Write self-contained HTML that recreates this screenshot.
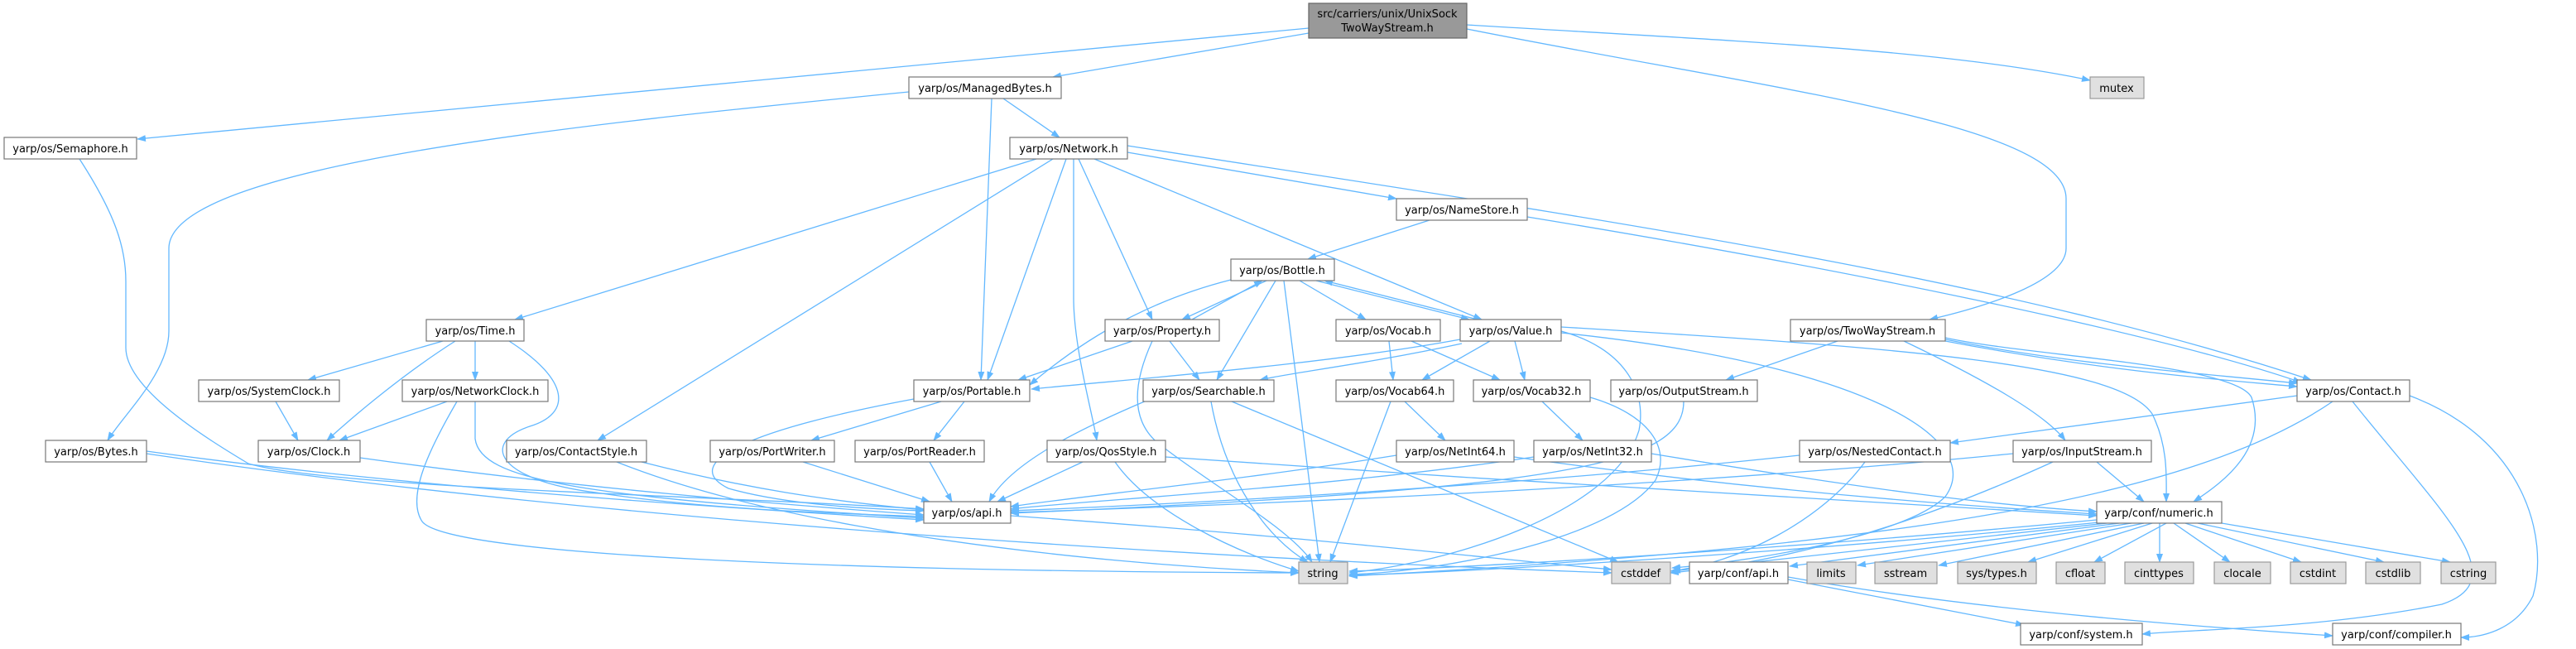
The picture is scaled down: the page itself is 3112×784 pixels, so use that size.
<!DOCTYPE html>
<html><head><meta charset="utf-8"><style>
html,body{margin:0;padding:0;background:#fff;}
svg{display:block;}
text{font-family:"DejaVu Sans","Liberation Sans",sans-serif;font-size:13px;fill:#000;text-anchor:middle;}
.e{fill:none;stroke:#63b8ff;stroke-width:1.3;marker-end:url(#a);}
.n{fill:#fff;stroke:#777;stroke-width:1.2;}
.g{fill:#e0e0e0;stroke:#999;stroke-width:1.2;}
</style></head><body>
<svg width="3112" height="784" viewBox="0 0 3112 784" xmlns="http://www.w3.org/2000/svg">
<defs><marker id="a" markerUnits="userSpaceOnUse" markerWidth="11" markerHeight="8" refX="10" refY="4" orient="auto"><path d="M0,0 L11,4 L0,8 z" fill="#63b8ff"/></marker></defs>
<g>
<path class="e" d="M1581,40 L1272,93"/>
<path class="e" d="M1581,34 L166,168"/>
<path class="e" d="M1772,30 C2100,50 2350,60 2525,97"/>
<path class="e" d="M1772,35 C2150,110 2496,150 2496,240 L2496,300 C2496,340 2400,370 2331,386"/>
<path class="e" d="M1098,111 C700,150 204,200 204,300 L204,400 C204,450 150,500 130,532"/>
<path class="e" d="M1198,119 L1185,459"/>
<path class="e" d="M1212,119 L1280,166"/>
<path class="e" d="M96,192 C140,260 152,300 152,340 L152,420 C152,470 250,530 300,560 C400,590 900,600 1116,615"/>
<path class="e" d="M1252,192 L622,386"/>
<path class="e" d="M1272,192 L722,532"/>
<path class="e" d="M1288,192 L1193,459"/>
<path class="e" d="M1297,192 L1297,360 C1297,420 1320,500 1325,532"/>
<path class="e" d="M1303,192 L1392,386"/>
<path class="e" d="M1322,192 L1790,386"/>
<path class="e" d="M1362,184 L1687,240"/>
<path class="e" d="M1362,176 C1900,260 2400,330 2792,459"/>
<path class="e" d="M1730,265 L1580,313"/>
<path class="e" d="M1845,262 C2200,320 2600,400 2780,462"/>
<path class="e" d="M1530,339 L1428,386"/>
<path class="e" d="M1440,386 L1525,339"/>
<path class="e" d="M1487,338 C1400,360 1320,400 1244,465"/>
<path class="e" d="M1368,412 L1230,459"/>
<path class="e" d="M1764,410 C1600,440 1400,455 1246,470"/>
<path class="e" d="M1541,339 L1470,459"/>
<path class="e" d="M1413,412 L1449,459"/>
<path class="e" d="M1766,415 C1650,440 1560,450 1522,459"/>
<path class="e" d="M1551,339 L1594,679"/>
<path class="e" d="M1392,412 C1370,460 1362,510 1405,540 C1470,590 1560,640 1585,679"/>
<path class="e" d="M1570,339 L1650,386"/>
<path class="e" d="M1590,339 L1775,386"/>
<path class="e" d="M1785,386 L1600,339"/>
<path class="e" d="M1800,412 L1718,459"/>
<path class="e" d="M1830,412 L1842,459"/>
<path class="e" d="M1678,412 L1683,459"/>
<path class="e" d="M1705,412 L1812,459"/>
<path class="e" d="M1697,485 L1746,532"/>
<path class="e" d="M1863,485 L1912,532"/>
<path class="e" d="M1680,485 L1607,679"/>
<path class="e" d="M1921,480 C1990,500 2020,540 2000,580 C1950,650 1750,690 1630,694"/>
<path class="e" d="M1463,485 C1480,580 1530,650 1580,679"/>
<path class="e" d="M1488,485 L1955,679"/>
<path class="e" d="M1385,484 C1300,520 1220,560 1195,606"/>
<path class="e" d="M1104,482 C900,520 820,560 880,590 C950,610 1050,615 1116,617"/>
<path class="e" d="M1137,485 L980,532"/>
<path class="e" d="M1165,485 L1128,532"/>
<path class="e" d="M970,558 L1123,606"/>
<path class="e" d="M1123,558 L1150,606"/>
<path class="e" d="M1308,558 L1205,606"/>
<path class="e" d="M1347,558 C1390,620 1500,670 1569,690"/>
<path class="e" d="M1408,552 C1800,580 2300,610 2533,623"/>
<path class="e" d="M535,412 L372,459"/>
<path class="e" d="M550,412 C490,450 430,500 395,532"/>
<path class="e" d="M574,412 L574,459"/>
<path class="e" d="M615,412 C690,460 690,500 640,515 C580,535 600,580 720,595 C850,615 1000,620 1116,624"/>
<path class="e" d="M333,485 L360,532"/>
<path class="e" d="M540,485 L410,532"/>
<path class="e" d="M574,485 L574,530 C580,580 700,600 1116,626"/>
<path class="e" d="M552,485 C520,540 490,600 510,630 C540,670 1000,690 1569,692"/>
<path class="e" d="M177,545 C500,590 900,615 1116,628"/>
<path class="e" d="M177,548 C800,640 1600,680 1947,692"/>
<path class="e" d="M435,553 C700,590 950,610 1116,622"/>
<path class="e" d="M775,558 C900,590 1000,605 1116,616"/>
<path class="e" d="M745,558 C950,640 1300,680 1569,692"/>
<path class="e" d="M1221,623 C1600,650 1800,675 1947,688"/>
<path class="e" d="M1687,550 C1500,580 1300,600 1221,612"/>
<path class="e" d="M1829,552 C2100,590 2350,610 2533,621"/>
<path class="e" d="M1853,552 C1600,590 1300,605 1221,615"/>
<path class="e" d="M1995,548 C2250,590 2400,610 2533,618"/>
<path class="e" d="M2174,550 C1800,590 1400,610 1221,617"/>
<path class="e" d="M2253,558 C2200,630 2100,680 2018,690"/>
<path class="e" d="M2432,548 C2000,590 1500,610 1221,619"/>
<path class="e" d="M2533,558 L2590,606"/>
<path class="e" d="M2480,558 C2300,640 2150,680 2018,692"/>
<path class="e" d="M2220,412 L2085,459"/>
<path class="e" d="M2300,412 C2400,460 2470,500 2495,532"/>
<path class="e" d="M2350,410 C2500,440 2650,450 2775,463"/>
<path class="e" d="M2350,412 C2550,450 2700,460 2775,467"/>
<path class="e" d="M2350,408 C2450,430 2700,440 2720,480 C2740,540 2690,580 2650,606"/>
<path class="e" d="M1886,395 C2300,420 2560,440 2600,500 C2620,540 2617,580 2617,606"/>
<path class="e" d="M1886,400 C1960,420 1990,470 1980,520 C1950,620 1750,680 1630,692"/>
<path class="e" d="M1886,402 C2250,440 2400,530 2350,600 C2300,650 2100,680 2020,686"/>
<path class="e" d="M2034,485 C2034,560 1900,590 1221,620"/>
<path class="e" d="M2775,478 L2356,535"/>
<path class="e" d="M2818,485 C2650,600 2300,660 1630,696"/>
<path class="e" d="M2842,485 C2950,620 3040,700 2950,730 C2800,760 2650,760 2588,766"/>
<path class="e" d="M2911,478 C3050,530 3080,650 3060,720 C3040,760 3000,770 2973,770"/>
<path class="e" d="M2533,628 C2200,660 1800,685 1630,690"/>
<path class="e" d="M2536,631 C2200,665 1800,690 1630,695"/>
<path class="e" d="M2545,632 C2300,660 2100,680 2020,690"/>
<path class="e" d="M2560,632 L2162,684"/>
<path class="e" d="M2575,632 L2244,683"/>
<path class="e" d="M2590,632 L2342,683"/>
<path class="e" d="M2600,632 L2450,679"/>
<path class="e" d="M2617,632 L2530,679"/>
<path class="e" d="M2609,632 L2609,679"/>
<path class="e" d="M2626,632 L2694,679"/>
<path class="e" d="M2640,632 L2780,679"/>
<path class="e" d="M2655,632 L2880,679"/>
<path class="e" d="M2684,632 L2960,679"/>
<path class="e" d="M2160,700 L2445,755"/>
<path class="e" d="M2160,697 C2400,740 2700,760 2818,768"/>
</g>
<g>
<rect x="1581" y="4" width="191" height="42" fill="#999" stroke="#666" stroke-width="1.2"/>
<text x="1676" y="21">src/carriers/unix/UnixSock</text><text x="1676" y="38">TwoWayStream.h</text>

<rect class="n" x="1098" y="93" width="184" height="26"/><text x="1190" y="111">yarp/os/ManagedBytes.h</text>
<rect class="g" x="2525" y="93" width="65" height="26"/><text x="2557" y="111">mutex</text>
<rect class="n" x="5" y="166" width="160" height="26"/><text x="85" y="184">yarp/os/Semaphore.h</text>
<rect class="n" x="1220" y="166" width="142" height="26"/><text x="1291" y="184">yarp/os/Network.h</text>
<rect class="n" x="1687" y="240" width="158" height="26"/><text x="1766" y="258">yarp/os/NameStore.h</text>
<rect class="n" x="1487" y="313" width="125" height="26"/><text x="1549" y="331">yarp/os/Bottle.h</text>

<rect class="n" x="515" y="386" width="118" height="26"/><text x="574" y="404">yarp/os/Time.h</text>
<rect class="n" x="1335" y="386" width="138" height="26"/><text x="1404" y="404">yarp/os/Property.h</text>
<rect class="n" x="1614" y="386" width="126" height="26"/><text x="1677" y="404">yarp/os/Vocab.h</text>
<rect class="n" x="1764" y="386" width="122" height="26"/><text x="1825" y="404">yarp/os/Value.h</text>
<rect class="n" x="2163" y="386" width="187" height="26"/><text x="2256" y="404">yarp/os/TwoWayStream.h</text>

<rect class="n" x="240" y="459" width="170" height="26"/><text x="325" y="477">yarp/os/SystemClock.h</text>
<rect class="n" x="486" y="459" width="176" height="26"/><text x="574" y="477">yarp/os/NetworkClock.h</text>
<rect class="n" x="1104" y="459" width="140" height="26"/><text x="1174" y="477">yarp/os/Portable.h</text>
<rect class="n" x="1381" y="459" width="158" height="26"/><text x="1460" y="477">yarp/os/Searchable.h</text>
<rect class="n" x="1614" y="459" width="142" height="26"/><text x="1685" y="477">yarp/os/Vocab64.h</text>
<rect class="n" x="1780" y="459" width="141" height="26"/><text x="1850" y="477">yarp/os/Vocab32.h</text>
<rect class="n" x="1946" y="459" width="177" height="26"/><text x="2034" y="477">yarp/os/OutputStream.h</text>
<rect class="n" x="2775" y="459" width="136" height="26"/><text x="2843" y="477">yarp/os/Contact.h</text>

<rect class="n" x="55" y="532" width="122" height="26"/><text x="116" y="550">yarp/os/Bytes.h</text>
<rect class="n" x="312" y="532" width="123" height="26"/><text x="373" y="550">yarp/os/Clock.h</text>
<rect class="n" x="612" y="532" width="169" height="26"/><text x="696" y="550">yarp/os/ContactStyle.h</text>
<rect class="n" x="858" y="532" width="150" height="26"/><text x="933" y="550">yarp/os/PortWriter.h</text>
<rect class="n" x="1033" y="532" width="156" height="26"/><text x="1111" y="550">yarp/os/PortReader.h</text>
<rect class="n" x="1265" y="532" width="143" height="26"/><text x="1336" y="550">yarp/os/QosStyle.h</text>
<rect class="n" x="1687" y="532" width="142" height="26"/><text x="1758" y="550">yarp/os/NetInt64.h</text>
<rect class="n" x="1853" y="532" width="142" height="26"/><text x="1924" y="550">yarp/os/NetInt32.h</text>
<rect class="n" x="2174" y="532" width="182" height="26"/><text x="2265" y="550">yarp/os/NestedContact.h</text>
<rect class="n" x="2432" y="532" width="167" height="26"/><text x="2515" y="550">yarp/os/InputStream.h</text>

<rect class="n" x="1116" y="606" width="105" height="26"/><text x="1168" y="624">yarp/os/api.h</text>
<rect class="n" x="2533" y="606" width="151" height="26"/><text x="2608" y="624">yarp/conf/numeric.h</text>

<rect class="g" x="1569" y="679" width="59" height="26"/><text x="1598" y="697">string</text>
<rect class="g" x="1947" y="679" width="71" height="26"/><text x="1982" y="697">cstddef</text>
<rect class="n" x="2041" y="679" width="119" height="26"/><text x="2100" y="697">yarp/conf/api.h</text>
<rect class="g" x="2183" y="679" width="59" height="26"/><text x="2212" y="697">limits</text>
<rect class="g" x="2265" y="679" width="75" height="26"/><text x="2302" y="697">sstream</text>
<rect class="g" x="2365" y="679" width="95" height="26"/><text x="2412" y="697">sys/types.h</text>
<rect class="g" x="2484" y="679" width="59" height="26"/><text x="2513" y="697">cfloat</text>
<rect class="g" x="2567" y="679" width="83" height="26"/><text x="2608" y="697">cinttypes</text>
<rect class="g" x="2675" y="679" width="68" height="26"/><text x="2709" y="697">clocale</text>
<rect class="g" x="2767" y="679" width="67" height="26"/><text x="2800" y="697">cstdint</text>
<rect class="g" x="2858" y="679" width="66" height="26"/><text x="2891" y="697">cstdlib</text>
<rect class="g" x="2949" y="679" width="66" height="26"/><text x="2982" y="697">cstring</text>

<rect class="n" x="2441" y="753" width="147" height="26"/><text x="2514" y="771">yarp/conf/system.h</text>
<rect class="n" x="2818" y="753" width="155" height="26"/><text x="2895" y="771">yarp/conf/compiler.h</text>
</g>
</svg>
</body></html>
